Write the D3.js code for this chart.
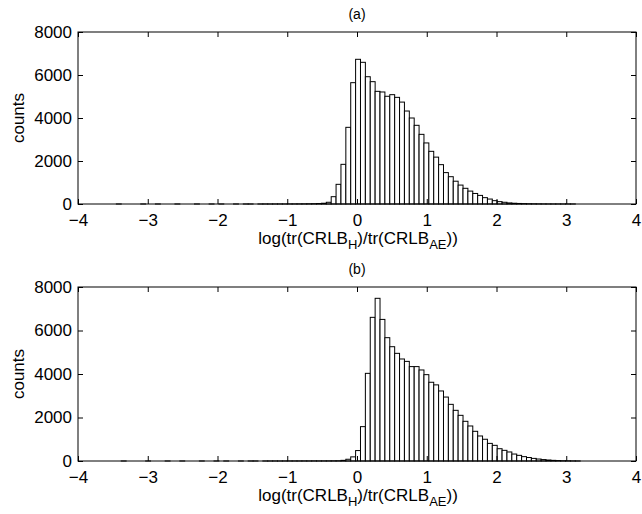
<!DOCTYPE html>
<html>
<head>
<meta charset="utf-8">
<script src="https://cdn.jsdelivr.net/npm/d3@7"></script>
<style>
  body { margin: 0; background: #fff; }
  text { font-family: "Liberation Sans", Arial, sans-serif; fill: #000; }
</style>
</head>
<body>
<div id="chart"></div>
<script>
// histogram bins: 100 bins of width 0.07 starting at -3.8
var binStart = -3.8, binWidth = 0.07;
var binEdges = d3.range(101).map(function (i) { return binStart + i * binWidth; });

// panel (a) counts per bin
var countsA = [
  0, 0, 0, 0, 0, 1, 0, 0, 0, 0,
  1, 0, 0, 1, 0, 0, 0, 1, 0, 0,
  0, 1, 0, 0, 1, 0, 1, 0, 0, 1,
  0, 1, 1, 0, 1, 2, 1, 2, 3, 2,
  4, 5, 6, 8, 11, 15, 22, 35, 80, 340,
  915, 1845, 3566, 5643, 6730, 6590, 5920, 5690, 5240, 5210,
  5010, 5085, 4960, 4740, 4325, 4000, 3660, 3240, 2840, 2450,
  2180, 1830, 1460, 1270, 1060, 880, 730, 600, 490, 400,
  295, 230, 155, 110, 80, 50, 35, 25, 18, 12,
  9, 6, 4, 3, 2, 2, 1, 1, 1, 0
];

// panel (b) counts per bin
var countsB = [
  0, 0, 0, 0, 0, 0, 1, 0, 0, 0,
  0, 1, 0, 0, 0, 1, 0, 0, 1, 0,
  0, 0, 1, 0, 0, 1, 0, 1, 0, 0,
  1, 0, 1, 1, 0, 1, 1, 2, 1, 2,
  2, 3, 3, 4, 3, 5, 4, 5, 6, 8,
  10, 30, 80, 190, 480, 1580, 4030, 6605, 7480, 6510,
  5670, 5255, 4950, 4690, 4580, 4340, 4340, 4185, 3970, 3620,
  3500, 3220, 2940, 2605, 2330, 2100, 1825, 1610, 1365, 1150,
  1000, 810, 720, 565, 490, 415, 320, 260, 200, 160,
  120, 90, 65, 45, 30, 20, 12, 8, 4, 2
];

var xTicks = [-4, -3, -2, -1, 0, 1, 2, 3, 4];
var yTicks = [0, 2000, 4000, 6000, 8000];
var titles = ["(a)", "(b)"];

var width = 642, height = 514;
var fontSize = 17;

var svg = d3.select("#chart").append("svg")
  .attr("width", width)
  .attr("height", height);

var x = d3.scaleLinear().domain([-4, 4]).range([78, 636]);

var panels = [
  { counts: countsA, title: titles[0], top: 32, bottom: 204 },
  { counts: countsB, title: titles[1], top: 287, bottom: 461 }
];

panels.forEach(function (p) {
  var y = d3.scaleLinear().domain([0, 8000]).range([p.bottom, p.top]);
  var g = svg.append("g");

  var bins = p.counts.map(function (c, i) {
    return { x0: binEdges[i], x1: binEdges[i + 1], n: c };
  });

  g.selectAll("rect.bar")
    .data(bins)
    .enter()
    .append("rect")
    .attr("class", "bar")
    .attr("x", d => x(d.x0))
    .attr("y", d => y(d.n))
    .attr("width", d => x(d.x1) - x(d.x0))
    .attr("height", d => y(0) - y(d.n))
    .attr("fill", "#fff")
    .attr("stroke", "#000")
    .attr("stroke-width", 1);

  // axes with ticks pointing inside, like matlab
  var xb = g.append("g")
    .attr("transform", "translate(0," + p.bottom + ")")
    .call(d3.axisBottom(x).tickValues(xTicks).tickSizeInner(-5).tickSizeOuter(0));
  var xt = g.append("g")
    .attr("transform", "translate(0," + p.top + ")")
    .call(d3.axisTop(x).tickValues(xTicks).tickSizeInner(-5).tickSizeOuter(0).tickFormat(""));
  var yl = g.append("g")
    .attr("transform", "translate(" + x.range()[0] + ",0)")
    .call(d3.axisLeft(y).tickValues(yTicks).tickSizeInner(-5).tickSizeOuter(0).tickPadding(6).tickFormat(d3.format("d")));
  var yr = g.append("g")
    .attr("transform", "translate(" + x.range()[1] + ",0)")
    .call(d3.axisRight(y).tickValues(yTicks).tickSizeInner(-5).tickSizeOuter(0).tickFormat(""));

  [xb, xt, yl, yr].forEach(function (a) {
    a.select(".domain").remove();
    a.selectAll("line").attr("stroke", "#000");
    a.selectAll("text")
      .style("font-family", '"Liberation Sans", Arial, sans-serif')
      .style("font-size", fontSize + "px")
      .attr("fill", "#000");
  });
  xb.selectAll("text").attr("dy", "0.75em").attr("y", 9);
  yl.selectAll("text").attr("dy", "0.3em");

  g.append("rect")
    .attr("x", x.range()[0])
    .attr("y", p.top)
    .attr("width", x.range()[1] - x.range()[0])
    .attr("height", p.bottom - p.top)
    .attr("fill", "none")
    .attr("stroke", "#000")
    .attr("stroke-width", 1);

  g.append("text")
    .attr("x", 357)
    .attr("y", p.top - 13)
    .attr("text-anchor", "middle")
    .style("font-size", "14px")
    .text(p.title);

  g.append("text")
    .attr("transform", "translate(24," + (p.top + p.bottom) / 2 + ") rotate(-90)")
    .attr("text-anchor", "middle")
    .style("font-size", fontSize + "px")
    .text("counts");

  var lab = g.append("text")
    .attr("x", 358)
    .attr("y", p.bottom + 40)
    .attr("text-anchor", "middle")
    .style("font-size", fontSize + "px");
  lab.append("tspan").text("log(tr(CRLB");
  lab.append("tspan").attr("dy", 5).style("font-size", "13px").text("H");
  lab.append("tspan").attr("dy", -5).text(")/tr(CRLB");
  lab.append("tspan").attr("dy", 5).style("font-size", "13px").text("AE");
  lab.append("tspan").attr("dy", -5).text("))");
});
</script>
</body>
</html>
